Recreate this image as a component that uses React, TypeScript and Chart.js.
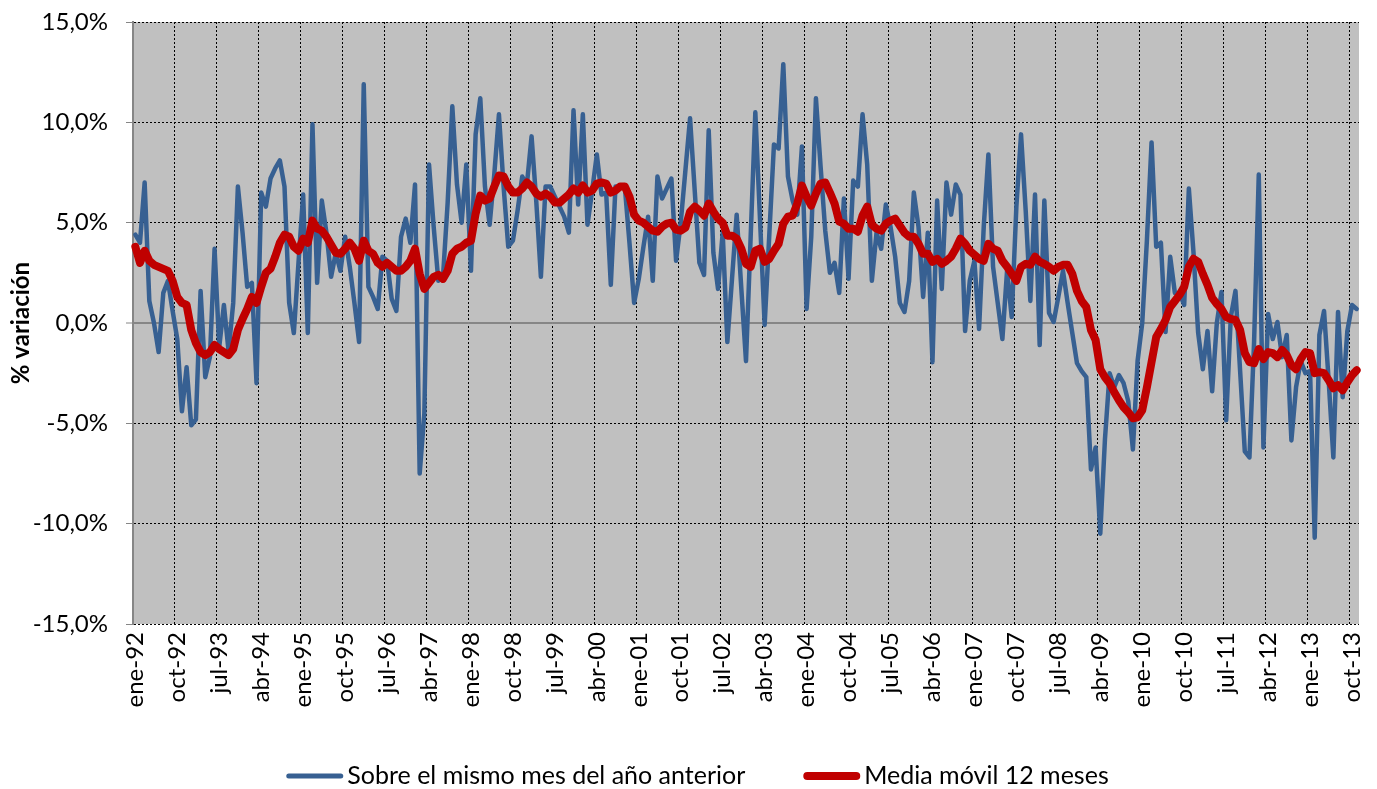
import { useEffect, useRef } from 'react';
import { Chart, registerables } from 'chart.js';

Chart.register(...registerables);

// ---- data ----
const MONTHS = ['ene', 'feb', 'mar', 'abr', 'may', 'jun', 'jul', 'ago', 'sep', 'oct', 'nov', 'dic'];
const START_YEAR = 1992;
const LABEL_EVERY = 9;

// Sobre el mismo mes del año anterior (%), ene-92 .. nov-13
const INTERANUAL = [
  4.4, 4.0, 7.0, 1.1, 0.0, -1.45, 1.5, 2.1, 0.6, -0.8, -4.4, -2.2,
  -5.1, -4.8, 1.6, -2.7, -1.7, 3.7, -1.2, 0.9, -1.4, 1.0, 6.8, 4.5,
  1.8, 2.0, -3.0, 6.5, 5.8, 7.2, 7.7, 8.1, 6.8, 1.0, -0.5, 3.0,
  6.4, -0.5, 9.9, 2.0, 6.1, 4.5, 2.3, 3.5, 2.6, 4.3, 2.8, 1.0,
  -0.95, 11.9, 1.8, 1.3, 0.7, 3.3, 3.1, 1.2, 0.6, 4.3, 5.2, 4.0,
  6.9, -7.5, -4.5, 7.9, 4.8, 2.1, 2.3, 6.0, 10.8, 6.9, 5.0, 7.9,
  2.6, 9.4, 11.2, 6.8, 4.9, 7.4, 10.4, 6.8, 3.8, 4.1, 5.6, 7.3,
  6.9, 9.3, 6.1, 2.3, 6.8, 6.8, 6.3, 5.8, 5.3, 4.5, 10.6, 5.9,
  10.4, 4.9, 6.6, 8.4, 6.4, 6.5, 1.9, 6.8, 6.8, 6.8, 4.0, 1.0,
  2.2, 3.8, 5.3, 2.1, 7.3, 6.2, 6.7, 7.2, 3.1, 5.0, 7.6, 10.2,
  6.6, 3.0, 2.4, 9.6, 3.5, 1.7, 4.5, -0.95, 2.2, 5.4, 1.7, -1.9,
  4.3, 10.5, 5.2, -0.1, 4.4, 8.9, 8.7, 12.9, 7.3, 6.1, 5.4, 8.8,
  0.7, 4.3, 11.2, 7.8, 4.6, 2.5, 3.0, 1.5, 6.2, 2.2, 7.1, 6.8,
  10.4, 7.9, 2.1, 4.5, 3.7, 5.9, 4.8, 3.3, 1.0, 0.55, 2.1, 6.5,
  4.8, 1.3, 4.5, -1.95, 6.1, 1.7, 7.0, 5.4, 6.9, 6.4, -0.4, 2.1,
  3.1, -0.3, 4.8, 8.4, 2.8, 1.0, -0.8, 2.6, 0.3, 5.8, 9.4, 5.6,
  1.1, 6.4, -1.1, 6.1, 0.5, 0.05, 1.3, 2.6, 1.0, -0.5, -2.0, -2.4,
  -2.7, -7.3, -6.2, -10.5, -5.8, -2.5, -3.2, -2.6, -3.0, -3.9, -6.3, -1.9,
  0.0, 4.1, 9.0, 3.8, 4.0, -0.45, 3.3, 1.5, 1.5, 0.9, 6.7, 3.5,
  -0.5, -2.3, -0.4, -3.4, 0.0, 1.55, -4.85, 0.3, 1.6, -2.4, -6.4, -6.7,
  -0.9, 7.4, -6.2, 0.45, -0.8, 0.05, -1.7, -0.6, -5.85, -3.2, -1.9, -2.5,
  -2.4, -10.7, -0.6, 0.6, -2.9, -6.7, 0.55, -3.7, -0.4, 0.9, 0.7,
];

// Media móvil 12 meses (%)
const MEDIA_MOVIL = [
  3.8, 3.0, 3.6, 3.1, 2.9, 2.8, 2.7, 2.6, 2.1, 1.3, 1.0, 0.9,
  -0.35, -1.0, -1.45, -1.6, -1.45, -1.1, -1.3, -1.45, -1.6, -1.3, -0.35, 0.2,
  0.7, 1.3, 1.0, 1.8, 2.5, 2.7, 3.3, 4.0, 4.4, 4.3, 3.8, 3.6,
  4.2, 4.0, 5.1, 4.7, 4.6, 4.3, 3.9, 3.5, 3.45, 3.7, 4.0, 3.7,
  3.1, 4.1, 3.6, 3.45, 3.0, 2.8, 3.0, 2.8, 2.6, 2.6, 2.8, 3.1,
  3.7, 2.45, 1.7, 2.0, 2.3, 2.4, 2.2, 2.6, 3.45, 3.7, 3.8, 4.0,
  4.1, 5.45, 6.35, 6.1, 6.2, 6.8, 7.35, 7.3, 6.8, 6.5, 6.5, 6.7,
  7.0, 6.8, 6.45, 6.3, 6.45, 6.3, 6.0, 6.0, 6.2, 6.4, 6.7, 6.5,
  6.85, 6.5, 6.6, 6.95, 7.0, 6.95, 6.5, 6.6, 6.8, 6.8, 6.3, 5.4,
  5.1, 5.0, 4.8, 4.6, 4.55, 4.8, 4.95, 5.0, 4.65, 4.6, 4.75, 5.55,
  5.8, 5.6, 5.35, 5.95, 5.55, 5.2, 5.0, 4.35, 4.35, 4.2, 3.7, 2.95,
  2.8, 3.6, 3.7, 3.05, 3.2, 3.6, 3.95, 4.95, 5.3, 5.35, 5.95, 6.85,
  6.3, 5.85, 6.45, 6.95, 7.0, 6.5, 5.95, 5.05, 4.95, 4.7, 4.7, 4.55,
  5.35, 5.8, 4.9, 4.7, 4.6, 4.95, 5.1, 5.2, 4.85, 4.5, 4.3, 4.3,
  3.95, 3.45, 3.45, 3.05, 3.2, 2.95, 3.1, 3.3, 3.7, 4.2, 3.95, 3.6,
  3.4, 3.2, 3.1, 3.95, 3.7, 3.6, 3.1, 2.8, 2.45, 2.1, 2.8, 2.95,
  2.9, 3.3, 3.05, 2.95, 2.8, 2.6, 2.8, 2.9, 2.9, 2.45, 1.6, 1.1,
  0.8, -0.35, -0.85, -2.3, -2.7, -3.0, -3.45, -3.85, -4.2, -4.45, -4.75, -4.7,
  -4.35, -3.2, -1.95, -0.7, -0.3, 0.15, 0.8, 1.1, 1.4, 1.8, 2.8, 3.2,
  3.05, 2.45, 1.9, 1.25, 0.95, 0.7, 0.3, 0.2, 0.15, -0.35, -1.5, -1.95,
  -2.0, -1.3, -1.8, -1.45, -1.5, -1.7, -1.35, -1.6, -2.1, -2.3, -1.8, -1.45,
  -1.5, -2.5, -2.45, -2.5, -2.85, -3.25, -3.1, -3.35, -2.95, -2.6, -2.35,
];

const SERIES_LABELS = ['Sobre el mismo mes del año anterior', 'Media móvil 12 meses'];
const Y_TITLE = '% variación';
const Y_MIN = -15;
const Y_MAX = 15;
const Y_STEP = 5;

const CATEGORIES = INTERANUAL.map(
  (_, i) => `${MONTHS[i % 12]}-${String((START_YEAR + Math.floor(i / 12)) % 100).padStart(2, '0')}`
);

// ---- styles ----
const FONT = 'Lato';
const BLUE = '#376092';
const RED = '#C00000';
const PLOT_BG = '#C0C0C0';
const AXIS_GRAY = '#868686';

const fmtPct = (v: number) => `${Number(v).toFixed(1).replace('.', ',')}%`;

const plotBg = {
  id: 'plotBg',
  beforeDraw(chart: any) {
    const { ctx, chartArea: a } = chart;
    ctx.save();
    ctx.fillStyle = PLOT_BG;
    ctx.fillRect(a.left, a.top, a.right - a.left, a.bottom - a.top);
    ctx.restore();
  },
};

const lineLegend = {
  id: 'lineLegend',
  afterDraw(chart: any) {
    const ctx = chart.ctx;
    const dsets = chart.data.datasets;
    const lineLen = 57;
    const gapText = 4;
    const gapItem = 58;
    ctx.save();
    ctx.font = `25px ${FONT}`;
    const widths = dsets.map((d: any) => ctx.measureText(d.label).width);
    const total =
      widths.reduce((s: number, w: number) => s + lineLen + gapText + w, 0) + gapItem * (dsets.length - 1);
    let x = chart.width / 2 + 9 - total / 2;
    const y = chart.height - 13;
    dsets.forEach((d: any, i: number) => {
      ctx.beginPath();
      ctx.strokeStyle = d.borderColor;
      ctx.lineWidth = d.legendWidth;
      ctx.lineCap = 'round';
      ctx.moveTo(x + d.legendWidth / 2, y);
      ctx.lineTo(x + lineLen - d.legendWidth / 2, y);
      ctx.stroke();
      ctx.fillStyle = '#000';
      ctx.textBaseline = 'middle';
      ctx.textAlign = 'left';
      ctx.fillText(d.label, x + lineLen + gapText, y);
      x += lineLen + gapText + widths[i] + gapItem;
    });
    ctx.restore();
  },
};

export default function App() {
  const ref = useRef<HTMLCanvasElement>(null);

  useEffect(() => {
    const canvas = ref.current;
    if (!canvas) return;
    const chart = new Chart(canvas, {
      type: 'line',
      data: {
        labels: CATEGORIES,
        datasets: [
          {
            label: SERIES_LABELS[0],
            data: INTERANUAL,
            borderColor: BLUE,
            backgroundColor: BLUE,
            borderWidth: 4.5,
            pointRadius: 0,
            tension: 0,
            borderJoinStyle: 'round',
            borderCapStyle: 'round',
            order: 1,
            legendWidth: 5,
          } as any,
          {
            label: SERIES_LABELS[1],
            data: MEDIA_MOVIL,
            borderColor: RED,
            backgroundColor: RED,
            borderWidth: 8,
            pointRadius: 0,
            tension: 0,
            borderJoinStyle: 'round',
            borderCapStyle: 'round',
            order: 0,
            legendWidth: 8,
          } as any,
        ],
      },
      options: {
        animation: false,
        responsive: true,
        maintainAspectRatio: false,
        layout: { padding: { top: 22, right: 18, bottom: 70, left: 0 } },
        plugins: {
          legend: { display: false },
          tooltip: { enabled: false },
        },
        scales: {
          x: {
            type: 'category',
            offset: true,
            grid: {
              offset: true,
              drawTicks: false,
              lineWidth: 1,
              color: (c: any) =>
                c.type === 'tick' && c.index % LABEL_EVERY === 0 ? '#000' : 'rgba(0,0,0,0)',
            },
            border: { display: false, dash: [2, 2] },
            ticks: {
              autoSkip: false,
              minRotation: 90,
              maxRotation: 90,
              padding: 8,
              color: '#000',
              font: { family: FONT, size: 24 },
              callback: (_v: any, i: number) => (i % LABEL_EVERY === 0 ? CATEGORIES[i] : ''),
            },
            afterFit: (s: any) => {
              s.height = 95;
              s.paddingLeft = 0;
              s.paddingRight = 0;
            },
          },
          y: {
            min: Y_MIN,
            max: Y_MAX,
            ticks: {
              stepSize: Y_STEP,
              padding: 18,
              color: '#000',
              font: { family: FONT, size: 24 },
              callback: (v: any) => fmtPct(v),
            },
            grid: {
              color: (c: any) => (c.tick && c.tick.value === 0 ? AXIS_GRAY : '#000'),
              lineWidth: (c: any) => (c.tick && c.tick.value === 0 ? 2 : 1),
              drawTicks: true,
              tickLength: 7,
              tickColor: AXIS_GRAY,
              tickWidth: 1,
            },
            border: {
              display: true,
              color: AXIS_GRAY,
              width: 2,
              dash: (c: any) => (c.tick && c.tick.value === 0 ? [] : [2, 2]),
            },
            title: {
              display: true,
              text: Y_TITLE,
              color: '#000',
              font: { family: FONT, size: 24, weight: 'bold' },
              padding: { top: 7, bottom: 0 },
            },
            afterFit: (s: any) => {
              s.width = 133;
              s.paddingTop = 0;
              s.paddingBottom = 0;
            },
          },
        },
      } as any,
      plugins: [plotBg, lineLegend],
    });
    return () => chart.destroy();
  }, []);

  return (
    <div style={{ position: 'absolute', left: 0, top: 0, width: 1377, height: 789 }}>
      <canvas ref={ref} />
    </div>
  );
}
